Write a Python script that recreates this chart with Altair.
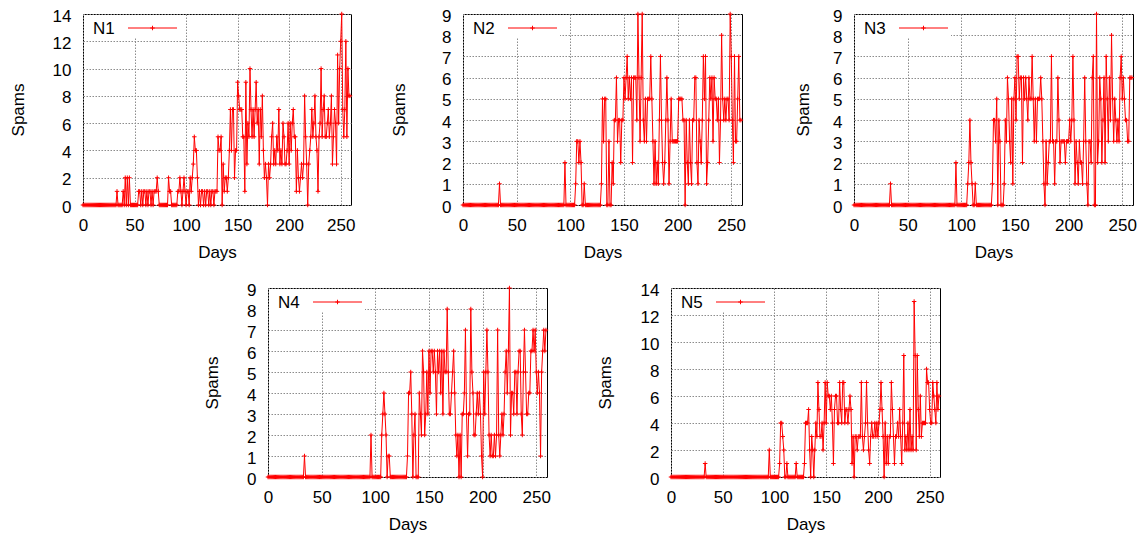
import altair as alt
import pandas as pd

FONT = "Liberation Sans"
RED = "#ff0000"
X_TICKS = [0, 50, 100, 150, 200, 250]
X_DOMAIN = [0, 260]
CROSS = "M-1,0L1,0M0,-1L0,1"
SPACER = [0]

N1_VALUES = (
    [0] * 33
    + [1, 0, 0, 0, 0, 0, 1, 0, 2, 0, 2, 0, 2, 0, 0, 0, 0, 0]
    + [0, 0, 0, 1, 1, 0, 1, 0, 1, 1, 0, 1, 0, 1, 1, 0, 1, 0, 1, 1, 1, 2, 1, 0, 0]
    + [0] * 7
    + [2, 1, 1, 0, 0, 0, 0, 0, 0]
    + [1, 1, 2, 1, 0, 1, 2, 1, 0, 1, 1, 0, 2, 1, 2, 3, 5, 4, 4, 2, 0, 1, 0, 1, 1,
       0, 1, 0, 1, 1, 0, 1, 0, 1, 1, 0, 1, 1, 1, 5, 4, 4, 5]
    + [0, 3, 1, 2, 2, 1, 2, 4, 7, 4, 7, 7, 2, 4, 4, 9, 8, 7, 7, 7, 5, 5, 1, 9, 3,
       6, 5, 10, 7, 5, 7, 5, 7, 9, 6, 7, 3, 7, 5, 8, 4, 2, 3, 2, 0]
    + [3, 2, 3, 5, 6, 3, 4, 3, 5, 4, 7, 3, 4, 3, 6, 5, 3, 3, 4, 6]
    + [3, 6, 4, 6, 7, 5, 5, 1, 4, 2, 1, 2, 3, 2, 3, 8, 5, 3, 0, 3]
    + [4, 5, 7, 5, 6, 8, 5, 4, 1, 5, 6, 10, 5, 7, 8, 5, 5, 6, 7, 5]
    + [6, 8, 3, 5, 7, 6, 3, 11, 6, 10, 12, 14, 7, 5, 7, 12, 5, 10, 8, 8]
)

N2_VALUES = (
    [0] * 34 + [1] + [0] * 60 + [2] + [0] * 9
    + [1, 3, 3, 2, 3, 2, 0, 0, 1, 0]
    + [0] * 14
    + [1, 5, 3, 5, 5, 0, 0, 3, 0, 0]
    + [2, 1, 4, 4, 6, 3, 4, 4, 2, 4]
    + [4, 6, 5, 6, 7, 5, 6, 5, 6, 2]
    + [6, 6, 6, 4, 9, 6, 3, 6, 9, 4]
    + [3, 5, 3, 5, 5, 5, 7, 5, 3, 1]
    + [3, 1, 2, 1, 4, 7, 4, 2, 1, 2]
    + [4, 6, 4, 1, 3, 5, 3, 3, 3, 3]
    + [3, 3, 5, 5, 5, 5, 4, 4, 0, 4]
    + [2, 1, 4, 2, 1, 4, 4, 6, 6, 2]
    + [1, 4, 3, 2, 4, 7, 5, 7, 1, 2]
    + [4, 6, 5, 6, 3, 6, 5, 5, 4, 5]
    + [2, 4, 8, 5, 4, 5, 4, 5, 5, 4]
    + [9, 7, 4, 2, 7, 3, 3, 5, 7, 4, 4]
)

N3_VALUES = (
    [0] * 34 + [1] + [0] * 60 + [2] + [0] * 10
    + [1, 2, 4, 2, 1, 0, 0, 1, 0]
    + [0] * 14
    + [1, 4, 4, 3, 5, 0, 4, 3, 0, 0]
    + [0, 1, 4, 3, 6, 5, 3, 2, 5, 1]
    + [5, 6, 4, 7, 7, 5, 6, 6, 2, 6]
    + [5, 6, 5, 4, 6, 5, 5, 7, 5, 3]
    + [5, 3, 5, 5, 5, 6, 5, 3, 1, 0]
    + [3, 1, 2, 3, 3, 7, 3, 3, 1, 3]
    + [3, 6, 4, 2, 3, 3, 3, 3, 2, 3]
    + [3, 3, 4, 3, 4, 7, 4, 1, 3, 2]
    + [1, 3, 2, 2, 1, 3, 6, 3, 1, 0]
    + [3, 3, 2, 6, 7, 0, 0, 9, 2, 3]
    + [6, 5, 2, 4, 6, 2, 7, 5, 3, 6]
    + [4, 8, 5, 3, 5, 4, 3, 4, 3, 6]
    + [7, 5, 6, 5, 4, 4, 3, 3, 6, 6, 6]
)

N4_VALUES = (
    [0] * 34 + [1] + [0] * 61 + [2] + [0] * 9
    + [2, 3, 4, 3, 2, 0, 1, 1, 0]
    + [0] * 15
    + [1, 4, 4, 5, 3, 0, 2, 3, 0, 0]
    + [0, 4, 3, 2, 6, 5, 2, 3, 5, 3]
    + [6, 4, 6, 6, 5, 6, 5, 3, 6, 5]
    + [6, 4, 6, 3, 6, 5, 5, 8, 5, 3]
    + [3, 4, 5, 6, 4, 2, 1, 2, 0, 2]
    + [0, 3, 3, 4, 7, 3, 1, 3, 3, 8]
    + [5, 4, 2, 2, 3, 4, 3, 4, 3, 1]
    + [0, 5, 3, 5, 7, 5, 2, 1, 2, 1]
    + [1, 2, 1, 2, 7, 2, 1, 2, 3, 2]
    + [3, 5, 6, 4, 6, 9, 2, 4, 4, 3]
    + [5, 5, 3, 5, 6, 6, 3, 2, 5, 7]
    + [5, 3, 3, 4, 4, 6, 6, 7, 6, 7]
    + [5, 4, 5, 4, 1, 5, 6, 7, 6, 7]
)

N5_VALUES = (
    [0] * 33 + [1] + [0] * 61 + [2] + [0] * 9
    + [1, 4, 4, 3, 2, 0, 0, 1]
    + [0] * 8 + [1] + [0] * 7
    + [1, 4, 4, 4, 5, 2, 0, 3, 2, 0]
    + [2, 4, 3, 7, 5, 3, 3, 4, 2, 4]
    + [7, 4, 7, 6, 6, 5, 6, 4, 1, 5]
    + [6, 6, 4, 4, 7, 5, 4, 7, 7, 4]
    + [5, 5, 4, 5, 6, 5, 1, 3, 0, 3]
    + [3, 2, 3, 3, 3, 7, 3, 2, 3, 4]
    + [7, 4, 2, 1, 3, 4, 3, 3, 4, 3]
    + [4, 3, 4, 5, 7, 5, 3, 0, 4, 1]
    + [3, 1, 3, 3, 7, 5, 3, 1, 3, 3]
    + [4, 3, 5, 3, 1, 4, 9, 2, 3, 2]
    + [4, 2, 5, 2, 3, 2, 13, 9, 2, 9]
    + [5, 3, 6, 3, 4, 4, 4, 4, 8, 7]
    + [7, 5, 4, 4, 7, 6, 5, 4, 7, 5, 6]
)


def panel(name, values, ymax, ystep, w, h, title_x):
    df = pd.DataFrame({"day": list(range(len(values))), "spams": values})
    x = alt.X(
        "day:Q",
        scale=alt.Scale(domain=X_DOMAIN, nice=False, zero=False),
        axis=alt.Axis(values=X_TICKS, title="Days", titleY=52,
                      titleBaseline="alphabetic", labelOverlap=False,
                      labelFlush=False),
    )
    y = alt.Y(
        "spams:Q",
        scale=alt.Scale(domain=[0, ymax], nice=False),
        axis=alt.Axis(values=list(range(0, ymax + 1, ystep)), title="Spams",
                      titleX=title_x, titleY=h / 2, titleAlign="center",
                      titleBaseline="middle", labelOverlap=False,
                      labelFlush=False, labelBound=False, labelOffset=2),
    )
    base = alt.Chart(df).encode(x=x, y=y)
    line = base.mark_line(color=RED, strokeWidth=1)
    pts = base.mark_point(shape=CROSS, size=20, color=RED, strokeWidth=1,
                          filled=False, opacity=1)
    leg = alt.Chart(pd.DataFrame({"label": [name]}))
    box = leg.mark_rect(color="white").encode(
        x=alt.value(1), x2=alt.value(97), y=alt.value(1), y2=alt.value(24))
    txt = leg.mark_text(align="left", baseline="middle", font=FONT,
                        fontSize=17, color="black").encode(
        x=alt.value(10), y=alt.value(14.5), text="label:N")
    sample = leg.mark_rule(color=RED, strokeWidth=1).encode(
        x=alt.value(45), x2=alt.value(94), y=alt.value(14))
    sample_pt = leg.mark_point(shape=CROSS, size=20, color=RED, strokeWidth=1,
                               filled=False, opacity=1).encode(
        x=alt.value(69.5), y=alt.value(14))
    return alt.layer(line, pts, box, sample, sample_pt, txt).properties(
        width=w, height=h)


def spacer(w, h):
    return alt.Chart(pd.DataFrame({"s": SPACER})).mark_text(text="").encode(
        x=alt.value(0), y=alt.value(0)
    ).properties(width=w, height=h, view=alt.ViewBackground(stroke=None))


p1 = panel("N1", N1_VALUES, 14, 2, 268, 191, -65)
p2 = panel("N2", N2_VALUES, 9, 1, 279, 191, -64)
p3 = panel("N3", N3_VALUES, 9, 1, 279, 191, -51)
p4 = panel("N4", N4_VALUES, 9, 1, 279, 189, -56)
p5 = panel("N5", N5_VALUES, 14, 2, 269, 189, -66)

row1 = alt.hconcat(p1, spacer(112, 191), p2, spacer(112, 191), p3,
                   spacing=0, bounds="flush")
row2 = alt.hconcat(spacer(184.5, 189), p4, spacer(123.4, 189), p5,
                   spacing=0, bounds="flush")

chart = alt.vconcat(row1, row2, spacing=19).properties(
    padding={"left": 0, "top": -2, "right": 0, "bottom": 0},
    background="white",
).configure_view(
    stroke="black", strokeWidth=1
).configure_axis(
    grid=True, gridColor="#8c8c8c", gridDash=[1.5, 1.5], gridWidth=1,
    domain=False, ticks=False,
    labelFont=FONT, labelFontSize=17, labelColor="black", labelPadding=12,
    labelFlush=False, labelOverlap=False,
    titleFont=FONT, titleFontSize=17, titleFontWeight="normal",
    titleColor="black",
)

chart.save("out.html", embed_options={"renderer": "svg", "actions": False})
